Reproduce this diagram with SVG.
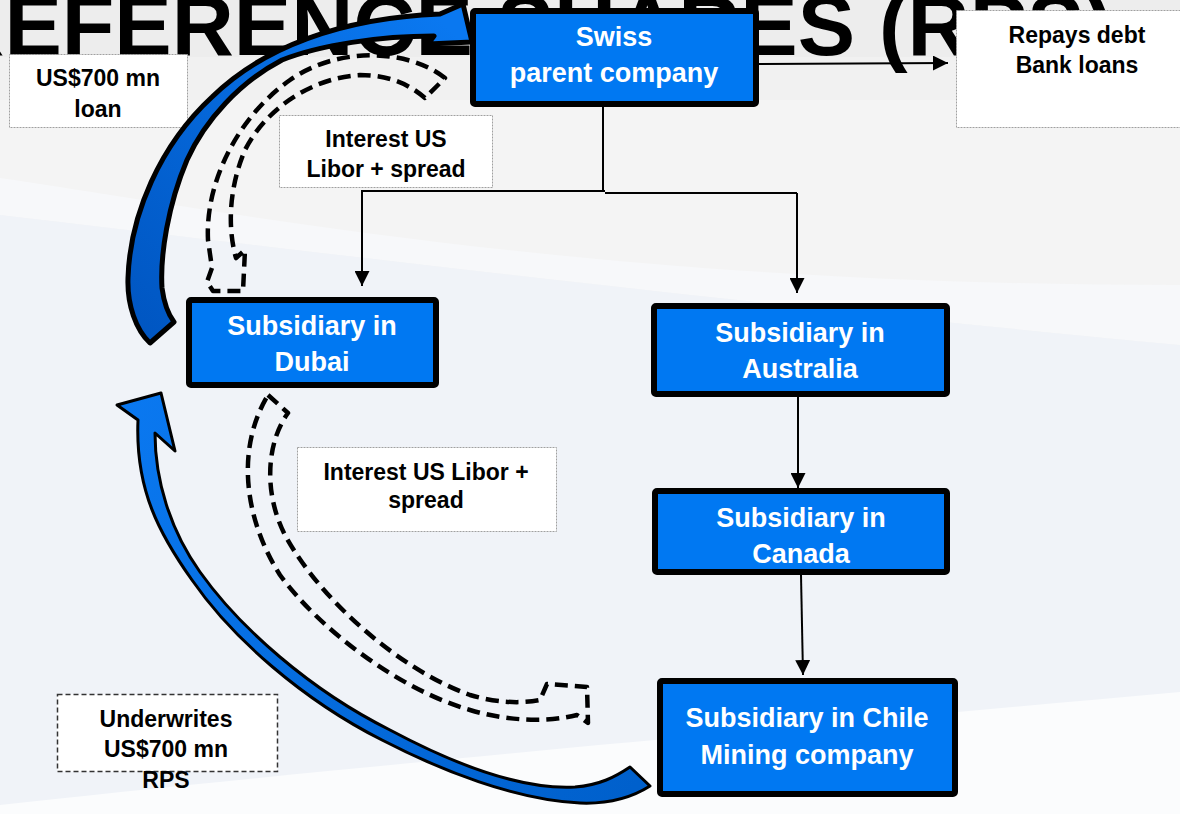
<svg xmlns="http://www.w3.org/2000/svg" width="1180" height="814" viewBox="0 0 1180 814">
<defs>
<style>
.node rect{fill:#0078f2;stroke:#000;stroke-width:6;}
.node text{font-family:"Liberation Sans",Arial,sans-serif;font-weight:bold;font-size:27px;fill:#fff;text-anchor:middle;}
.lbl rect{fill:#fff;stroke:#a0a0a0;stroke-width:1;stroke-dasharray:2 1;}
.lbl text{font-family:"Liberation Sans",Arial,sans-serif;font-weight:bold;font-size:23px;fill:#000;text-anchor:middle;}
.conn{fill:none;stroke:#000;stroke-width:2;}
.dash{fill:none;stroke:#000;stroke-width:4.5;stroke-dasharray:13 7;stroke-linejoin:round;}
</style>
<marker id="ah" viewBox="0 0 10 10" refX="10" refY="5" markerWidth="15" markerHeight="15" markerUnits="userSpaceOnUse" orient="auto">
<path d="M0,0 L10,5 L0,10 Z" fill="#000"/>
</marker>
<linearGradient id="g1" gradientUnits="userSpaceOnUse" x1="150" y1="340" x2="440" y2="20">
<stop offset="0" stop-color="#0056c2"/>
<stop offset="1" stop-color="#0a78f0"/>
</linearGradient>
<linearGradient id="g2" gradientUnits="userSpaceOnUse" x1="130" y1="400" x2="640" y2="780">
<stop offset="0" stop-color="#0a78f0"/>
<stop offset="1" stop-color="#0060cc"/>
</linearGradient>
</defs>

<g id="background">
<rect x="0" y="0" width="1180" height="814" fill="#f4f4f4"/>
<rect x="0" y="0" width="1180" height="57" fill="#ededed"/>
<rect x="0" y="57" width="1180" height="43" fill="#f1f1f1"/>
<path d="M0,178 C250,215 600,285 1180,285 L1180,345 C700,300 300,250 0,215 Z" fill="#f7f8fa"/>
<path d="M0,215 C300,250 700,300 1180,345 L1180,814 L0,814 Z" fill="#f0f3f8"/>
<path d="M0,805 C300,772 700,735 1180,692 L1180,814 L0,814 Z" fill="#fbfcfd"/>
<text x="-115" y="55" font-family="Liberation Sans, Arial, sans-serif" font-weight="bold" font-size="86" fill="#000">PREFERENCE SHARES (RPS)</text>
</g>

<g id="label-loan" class="lbl">
<rect x="9.5" y="54.5" width="178" height="73"/>
<text x="98" y="86">US$700 mn</text>
<text x="98" y="117">loan</text>
</g>
<g id="label-interest1" class="lbl">
<rect x="279.5" y="115.5" width="213" height="72"/>
<text x="386" y="147">Interest US</text>
<text x="386" y="177">Libor + spread</text>
</g>
<g id="label-repays" class="lbl">
<rect x="956.5" y="10.5" width="240" height="117"/>
<text x="1077" y="43">Repays debt</text>
<text x="1077" y="73">Bank loans</text>
</g>
<g id="label-interest2" class="lbl">
<rect x="297.5" y="447.5" width="259" height="84"/>
<text x="426" y="480">Interest US Libor +</text>
<text x="426" y="508">spread</text>
</g>
<g id="label-underwrites" class="lbl">
<rect x="57.5" y="694.5" width="220" height="77" style="stroke:#333;stroke-width:1.5;stroke-dasharray:5 3"/>
<text x="166" y="727">Underwrites</text>
<text x="166" y="757">US$700 mn</text>
<text x="166" y="788">RPS</text>
</g>

<g id="connectors">
<path class="conn" d="M759,64 L948,63" marker-end="url(#ah)"/>
<path class="conn" d="M603,107 V192"/>
<path class="conn" d="M361,191 H605 M605,193 H797"/>
<path class="conn" d="M362,191 V286" marker-end="url(#ah)"/>
<path class="conn" d="M797,193 V293" marker-end="url(#ah)"/>
<path class="conn" d="M798,397 V488" marker-end="url(#ah)"/>
<path class="conn" d="M801,575 L803,675" marker-end="url(#ah)"/>
<path id="flow-loan" d="M150,343 C136,330 127,305 128,278 C130,215 160,145 212,97 C262,48 340,18 440,14 L463,4 L472,42 L428,44 L434,36 C380,36 320,45 282,60 C240,82 205,120 187,160 C168,205 160,255 162,288 C164,303 168,314 174,322 Z" fill="url(#g1)" stroke="#000" stroke-width="5" stroke-linejoin="round"/>
<path id="flow-rps" d="M117,405 L161,393 L175,451 L155,433 C155,480 170,530 200,572 C240,628 310,690 390,730 C450,762 520,790 575,787 C600,785 615,777 630,767 L650,786 C628,800 605,804 580,803 C515,800 440,770 382,740 C303,700 232,638 192,580 C160,535 135,490 138,420 Z" fill="url(#g2)" stroke="#000" stroke-width="3" stroke-linejoin="round"/>
<path id="flow-interest1" class="dash" d="M445,78 C410,50 340,45 290,80 C240,115 205,180 208,240 L212,268 L207,282 L213,291 L243,291 L245,250 L236,258 C228,230 228,190 245,150 C265,110 310,78 360,75 C390,75 410,85 425,98 Z"/>
<path id="flow-interest2" class="dash" d="M268,395 L288,413 C268,440 262,490 285,535 C320,600 400,670 470,695 C500,704 525,703 540,700 L547,684 L587,687 L588,723 L577,715 C550,722 510,722 470,710 C400,690 320,630 280,575 C245,520 235,450 268,395 Z"/>
</g>

<g id="node-swiss" class="node">
<rect x="473" y="11" width="283" height="93" rx="2"/>
<text x="614" y="46">Swiss</text>
<text x="614" y="82">parent company</text>
</g>
<g id="node-dubai" class="node">
<rect x="189" y="300" width="247" height="85" rx="2"/>
<text x="312" y="335">Subsidiary in</text>
<text x="312" y="371">Dubai</text>
</g>
<g id="node-australia" class="node">
<rect x="654" y="306" width="293" height="88" rx="2"/>
<text x="800" y="342">Subsidiary in</text>
<text x="800" y="378">Australia</text>
</g>
<g id="node-canada" class="node">
<rect x="655" y="491" width="292" height="81" rx="2"/>
<text x="801" y="527">Subsidiary in</text>
<text x="801" y="563">Canada</text>
</g>
<g id="node-chile" class="node">
<rect x="660" y="681" width="295" height="113" rx="2"/>
<text x="807" y="727">Subsidiary in Chile</text>
<text x="807" y="764">Mining company</text>
</g>
</svg>
